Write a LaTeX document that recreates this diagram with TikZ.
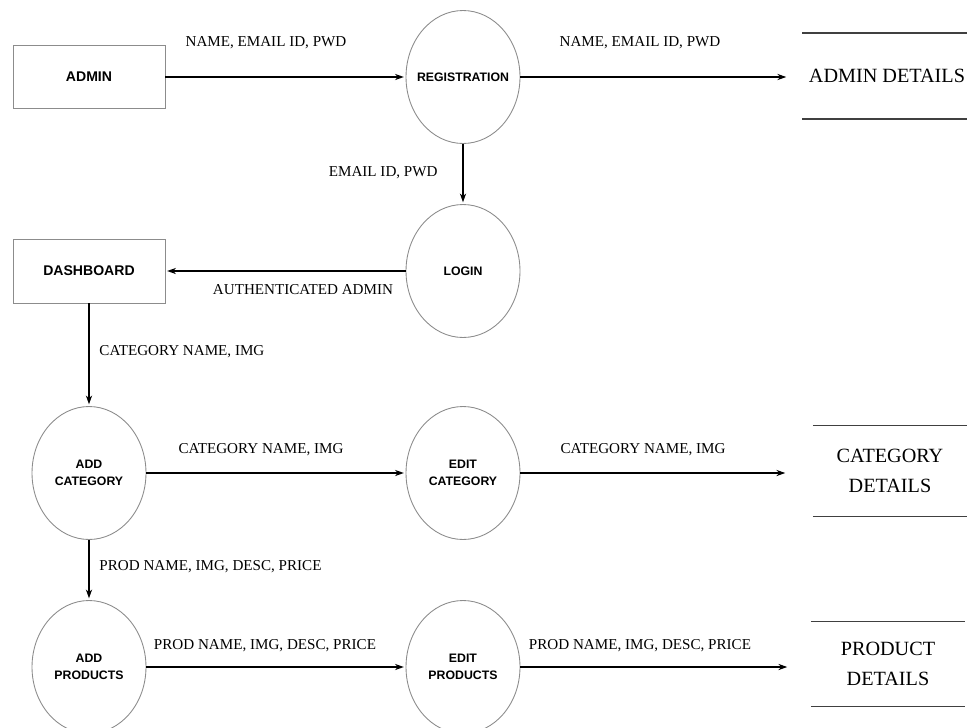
\documentclass[tikz,border=0pt]{standalone}
\usepackage{fontspec}
\setmainfont{Liberation Serif}
\newfontfamily\dfdsans{Liberation Sans}
\usetikzlibrary{shapes.geometric,arrows.meta}

\begin{document}
\begin{tikzpicture}[x=0.02cm,y=-0.02cm,shorten >=1pt,->,>={Stealth[length=5pt,width=3.5pt]},line width=0.8pt]
  \tikzstyle{entity}=[draw=black!45,line width=0.5pt,minimum width=3.04cm,minimum height=1.26cm,font=\dfdsans\bfseries\fontsize{8}{10}\selectfont]
  \tikzstyle{process}=[ellipse,draw=black!45,line width=0.5pt,minimum width=2.28cm,minimum height=2.66cm,inner sep=0pt,align=center,font=\dfdsans\bfseries\fontsize{7}{10}\selectfont]
  \tikzstyle{store}=[minimum width=3.06cm,minimum height=1.7cm,align=center,font=\fontsize{11.5}{17}\selectfont]
  \tikzstyle{flow}=[inner sep=1pt,font=\fontsize{8.6}{10}\selectfont]
  \useasboundingbox (0,0) rectangle (967,727);

  \node[entity] (admin) at (89,77) {ADMIN};
  \node[process] (reg) at (463,77) {\makebox[0pt]{REGISTRATION}};
  \node[store] (admind) at (887,76) {ADMIN DETAILS};
  \node[process] (login) at (463,271) {LOGIN};
  \node[entity,minimum height=1.28cm] (dash) at (89,271) {DASHBOARD};
  \node[process] (addcat) at (89,473) {ADD\\CATEGORY};
  \node[process] (editcat) at (463,473) {EDIT\\CATEGORY};
  \node[store,minimum height=1.8cm] (catd) at (890,471) {CATEGORY\\DETAILS};
  \node[process] (addprod) at (89,667) {ADD\\PRODUCTS};
  \node[process] (editprod) at (463,667) {EDIT\\PRODUCTS};
  \node[store,minimum height=1.68cm] (prodd) at (888,664) {PRODUCT\\DETAILS};

  % arrow ends in front of the stores
  \coordinate (admin_in) at (788,77);
  \coordinate (cat_in) at (787,473);
  \coordinate (prod_in) at (789,667);

  % data stores
  \foreach \s in {admind,catd,prodd}
    \draw[-,shorten >=0pt,black!75,line width=0.9pt] (\s.north west) -- (\s.north east) (\s.south west) -- (\s.south east);

  \draw (admin) -- (reg);
  \draw (reg) -- (admin_in);
  \draw (reg) -- (login);
  \draw (login) -- (dash);
  \draw (dash) -- (addcat);
  \draw (addcat) -- (editcat);
  \draw (editcat) -- (cat_in);
  \draw (addcat) -- (addprod);
  \draw (addprod) -- (editprod);
  \draw (editprod) -- (prod_in);

  \node[flow] (f1) at (266,43) {NAME, EMAIL ID, PWD};
  \node[flow] (f2) at (640,43) {NAME, EMAIL ID, PWD};
  \node[flow,anchor=east] (f3) at (440,173) {EMAIL ID, PWD};
  \node[flow] (f4) at (303,290) {AUTHENTICATED ADMIN};
  \node[flow,anchor=west] (f5) at (97,352) {CATEGORY NAME, IMG};
  \node[flow] (f6) at (261,450) {CATEGORY NAME, IMG};
  \node[flow] (f7) at (643,450) {CATEGORY NAME, IMG};
  \node[flow,anchor=west] (f8) at (97,567) {PROD NAME, IMG, DESC, PRICE};
  \node[flow] (f9) at (265,646) {PROD NAME, IMG, DESC, PRICE};
  \node[flow] (f10) at (640,646) {PROD NAME, IMG, DESC, PRICE};
\end{tikzpicture}
\end{document}
